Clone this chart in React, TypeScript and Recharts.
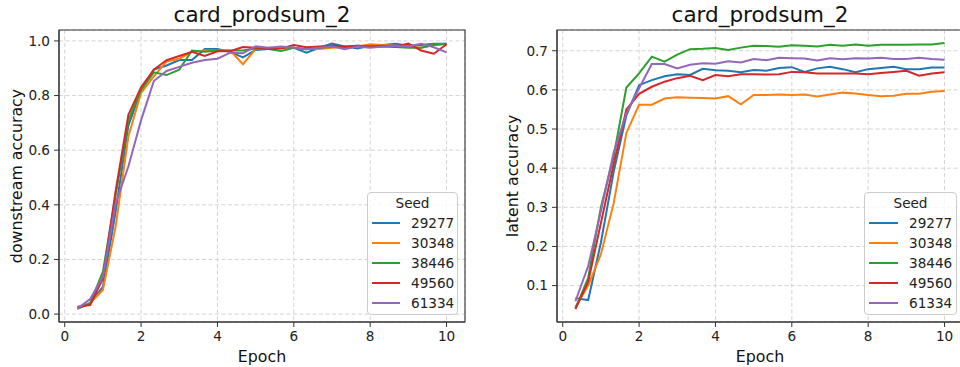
import { LineChart, Line, XAxis, YAxis, CartesianGrid, Legend, ReferenceArea } from "recharts";

const EPOCHS = [
  0.333, 0.667, 1, 1.333, 1.667, 2, 2.333, 2.667, 3, 3.333, 3.667, 4, 4.333, 4.667, 5,
  5.333, 5.667, 6, 6.333, 6.667, 7, 7.333, 7.667, 8, 8.333, 8.667, 9, 9.333, 9.667, 10,
];

const SEEDS = ["29277", "30348", "38446", "49560", "61334"];
const COLORS = ["#1f77b4", "#ff7f0e", "#2ca02c", "#d62728", "#9467bd"];

const X_TICKS = [0, 2, 4, 6, 8, 10];
const DOWNSTREAM_TICKS = [0, 0.2, 0.4, 0.6, 0.8, 1.0];
const LATENT_TICKS = [0.1, 0.2, 0.3, 0.4, 0.5, 0.6, 0.7];

// downstream accuracy per seed
const DOWN_29277 = [0.02, 0.04, 0.1, 0.375, 0.69, 0.82, 0.895, 0.91, 0.93, 0.93, 0.97, 0.97, 0.96, 0.94, 0.967, 0.97, 0.975, 0.975, 0.957, 0.975, 0.99, 0.98, 0.972, 0.982, 0.985, 0.99, 0.982, 0.985, 0.99, 0.99];
const DOWN_30348 = [0.02, 0.04, 0.088, 0.32, 0.65, 0.81, 0.87, 0.925, 0.935, 0.96, 0.965, 0.965, 0.965, 0.915, 0.97, 0.975, 0.975, 0.975, 0.97, 0.97, 0.975, 0.978, 0.98, 0.988, 0.985, 0.982, 0.98, 0.975, 0.985, 0.99];
const DOWN_38446 = [0.02, 0.04, 0.155, 0.435, 0.71, 0.82, 0.885, 0.875, 0.895, 0.965, 0.96, 0.965, 0.965, 0.965, 0.972, 0.97, 0.963, 0.975, 0.97, 0.975, 0.98, 0.978, 0.982, 0.978, 0.98, 0.978, 0.975, 0.975, 0.985, 0.99];
const DOWN_49560 = [0.027, 0.033, 0.13, 0.45, 0.73, 0.83, 0.895, 0.93, 0.945, 0.96, 0.945, 0.962, 0.962, 0.978, 0.975, 0.97, 0.972, 0.985, 0.977, 0.98, 0.982, 0.98, 0.982, 0.98, 0.982, 0.98, 0.99, 0.965, 0.953, 0.988];
const DOWN_61334 = [0.02, 0.055, 0.137, 0.405, 0.54, 0.71, 0.853, 0.89, 0.905, 0.92, 0.93, 0.935, 0.957, 0.955, 0.98, 0.975, 0.98, 0.975, 0.97, 0.975, 0.98, 0.97, 0.98, 0.975, 0.98, 0.982, 0.98, 0.99, 0.977, 0.958];

// latent accuracy per seed
const LAT_29277 = [0.068, 0.063, 0.21, 0.39, 0.535, 0.612, 0.625, 0.635, 0.64, 0.638, 0.654, 0.65, 0.649, 0.645, 0.651, 0.649, 0.656, 0.658, 0.646, 0.655, 0.659, 0.653, 0.645, 0.653, 0.656, 0.659, 0.653, 0.653, 0.657, 0.657];
const LAT_30348 = [0.045, 0.1, 0.18, 0.31, 0.49, 0.562, 0.562, 0.578, 0.581, 0.58, 0.579, 0.578, 0.584, 0.563, 0.587, 0.587, 0.588, 0.587, 0.588, 0.583, 0.588, 0.593, 0.591, 0.587, 0.584, 0.585, 0.59, 0.59, 0.595, 0.597];
const LAT_38446 = [0.042, 0.12, 0.3, 0.43, 0.606, 0.642, 0.685, 0.672, 0.69, 0.704, 0.705, 0.707, 0.702, 0.708, 0.713, 0.712, 0.71, 0.714, 0.713, 0.711, 0.715, 0.713, 0.716, 0.713, 0.715, 0.715, 0.715, 0.716, 0.716, 0.72];
const LAT_49560 = [0.04, 0.11, 0.26, 0.41, 0.55, 0.59, 0.608, 0.621, 0.63, 0.636, 0.625, 0.638, 0.635, 0.64, 0.64, 0.639, 0.64, 0.646, 0.645, 0.642, 0.642, 0.642, 0.642, 0.64, 0.643, 0.646, 0.649, 0.636, 0.642, 0.645];
const LAT_61334 = [0.06, 0.15, 0.29, 0.44, 0.54, 0.604, 0.666, 0.666, 0.655, 0.664, 0.668, 0.667, 0.673, 0.67, 0.679, 0.676, 0.682, 0.681, 0.68, 0.675, 0.681, 0.678, 0.681, 0.68, 0.682, 0.679, 0.679, 0.682, 0.679, 0.677];

const DOWN_SERIES = [DOWN_29277, DOWN_30348, DOWN_38446, DOWN_49560, DOWN_61334];
const LAT_SERIES = [LAT_29277, LAT_30348, LAT_38446, LAT_49560, LAT_61334];

const buildRows = (series: number[][]) =>
  EPOCHS.map((epoch, i) => {
    const row: Record<string, number> = { epoch };
    SEEDS.forEach((s, k) => {
      row[s] = series[k][i];
    });
    return row;
  });

const FONT = "'DejaVu Sans', sans-serif";
const X_DOMAIN: [number, number] = [-0.15, 10.4833];

const SeedLegend = ({ swatch, textLeft }: { swatch: number; textLeft: number }) => (
  <div
    style={{
      position: "relative",
      width: "100%",
      height: "100%",
      boxSizing: "border-box",
      border: "1px solid #cccccc",
      borderRadius: 4,
      background: "rgba(255,255,255,0.8)",
      fontFamily: FONT,
      fontSize: 13.6,
      color: "#222",
    }}
  >
    <div style={{ position: "absolute", top: 2, left: 0, right: 0, textAlign: "center", lineHeight: "16px" }}>
      Seed
    </div>
    {SEEDS.map((s, i) => (
      <div key={s} style={{ position: "absolute", left: 0, right: 0, top: 20 + i * 20, height: 20 }}>
        <div style={{ position: "absolute", left: 4, top: 9, width: swatch, height: 2, background: COLORS[i] }} />
        <div style={{ position: "absolute", left: textLeft, top: 0, lineHeight: "20px" }}>{s}</div>
      </div>
    ))}
  </div>
);

interface PanelProps {
  left: number;
  width: number;
  yAxisWidth: number;
  rightMargin: number;
  yLabel: string;
  yLabelX: number;
  data: Record<string, number>[];
  yDomain: [number, number];
  yTicks: number[];
  legendLeft: number;
  legendWidth: number;
  swatch: number;
  textLeft: number;
}

const Panel = (p: PanelProps) => {
  const plotLeft = p.yAxisWidth;
  const plotRight = p.width - p.rightMargin;
  const cx = (plotLeft + plotRight) / 2;
  return (
    <div style={{ position: "absolute", left: p.left, top: 0, width: p.width, height: 367 }}>
      <div
        style={{
          position: "absolute",
          left: cx - 150,
          width: 300,
          top: 2.5,
          textAlign: "center",
          fontFamily: FONT,
          fontSize: 21.5,
          lineHeight: "24px",
          color: "#111",
        }}
      >
        card_prodsum_2
      </div>
      <div
        style={{
          position: "absolute",
          left: cx - 100,
          width: 200,
          top: 347.5,
          textAlign: "center",
          fontFamily: FONT,
          fontSize: 15.8,
          lineHeight: "18px",
          color: "#111",
        }}
      >
        Epoch
      </div>
      <div
        style={{
          position: "absolute",
          left: p.yLabelX - 150,
          width: 300,
          top: 176 - 9,
          height: 18,
          textAlign: "center",
          fontFamily: FONT,
          fontSize: 15.8,
          lineHeight: "18px",
          color: "#111",
          transform: "rotate(-90deg)",
        }}
      >
        {p.yLabel}
      </div>
      <LineChart
        width={p.width}
        height={367}
        data={p.data}
        margin={{ top: 30, right: p.rightMargin, left: 0, bottom: 0 }}
        style={{ position: "absolute", left: 0, top: 0 }}
      >
        <CartesianGrid stroke="#d4d4d4" strokeDasharray="4 2.5" />
        <XAxis
          dataKey="epoch"
          type="number"
          domain={X_DOMAIN}
          ticks={X_TICKS}
          allowDataOverflow
          height={45}
          tickSize={5}
          tickMargin={4}
          stroke="#333"
          tick={{ fill: "#222", fontSize: 13.6, fontFamily: FONT }}
        />
        <YAxis
          type="number"
          domain={p.yDomain}
          ticks={p.yTicks}
          allowDataOverflow
          width={p.yAxisWidth}
          tickSize={5}
          tickMargin={4}
          stroke="#333"
          tickFormatter={(v: number) => v.toFixed(1)}
          tick={{ fill: "#222", fontSize: 13.6, fontFamily: FONT }}
        />
        <ReferenceArea
          x1={X_DOMAIN[0]}
          x2={X_DOMAIN[1]}
          y1={p.yDomain[0]}
          y2={p.yDomain[1]}
          fill="none"
          stroke="#333"
          strokeWidth={1.1}
          ifOverflow="visible"
        />
        {SEEDS.map((s, i) => (
          <Line
            key={s}
            dataKey={s}
            type="linear"
            stroke={COLORS[i]}
            strokeWidth={2}
            dot={false}
            activeDot={false}
            isAnimationActive={false}
          />
        ))}
        <Legend
          layout="vertical"
          align="center"
          verticalAlign="middle"
          wrapperStyle={{ position: "absolute", left: p.legendLeft, top: 192, width: p.legendWidth, height: 123 }}
          content={() => <SeedLegend swatch={p.swatch} textLeft={p.textLeft} />}
        />
      </LineChart>
    </div>
  );
};

export default function App() {
  return (
    <div
      style={{
        position: "fixed",
        left: 0,
        top: 0,
        width: 960,
        height: 367,
        overflow: "hidden",
        background: "#fff",
      }}
    >
      <Panel
        left={0}
        width={480}
        yAxisWidth={59}
        rightMargin={15}
        yLabel="downstream accuracy"
        yLabelX={17}
        data={buildRows(DOWN_SERIES)}
        yDomain={[-0.029, 1.04]}
        yTicks={DOWNSTREAM_TICKS}
        legendLeft={367}
        legendWidth={91}
        swatch={28}
        textLeft={43}
      />
      <Panel
        left={480}
        width={490}
        yAxisWidth={77}
        rightMargin={7}
        yLabel="latent accuracy"
        yLabelX={33}
        data={buildRows(LAT_SERIES)}
        yDomain={[0.007, 0.753]}
        yTicks={LATENT_TICKS}
        legendLeft={384}
        legendWidth={93}
        swatch={29}
        textLeft={44}
      />
    </div>
  );
}
